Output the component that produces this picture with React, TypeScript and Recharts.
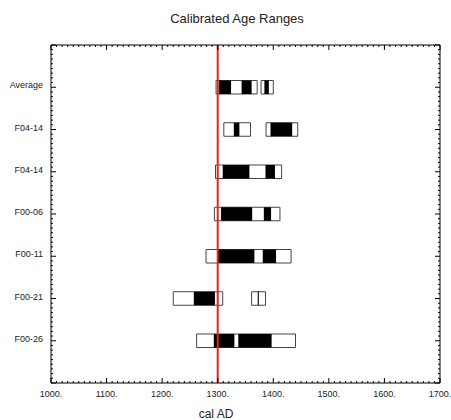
import React from 'react';
import { ComposedChart, XAxis, YAxis, ReferenceArea, ReferenceLine } from 'recharts';

const rowLabels = ['Average', 'F04-14', 'F04-14', 'F00-06', 'F00-11', 'F00-21', 'F00-26'];

// 2-sigma ranges (open boxes), cal AD, one list per row
const wideRanges: number[][][] = [
  [[1297, 1371], [1378, 1400]],
  [[1311, 1359], [1387, 1444]],
  [[1296, 1415]],
  [[1294, 1412]],
  [[1279, 1432]],
  [[1220, 1309], [1361, 1386]],
  [[1262, 1440]],
];

// 1-sigma ranges (filled), cal AD
const narrowRanges: number[][][] = [
  [[1302, 1324], [1343, 1361], [1384, 1392]],
  [[1329, 1339], [1395, 1434]],
  [[1309, 1357], [1386, 1403]],
  [[1306, 1362], [1383, 1396]],
  [[1299, 1366], [1381, 1405]],
  [[1257, 1295], [1372, 1374]],
  [[1293, 1330], [1337, 1397]],
];

const markerYear = 1300;
const xDomain = [1000, 1700];

// tick marks: every 10 years on x, nine steps per row on y
const xTicks: number[] = [];
for (let v = xDomain[0]; v <= xDomain[1]; v += 10) xTicks.push(v);
const yTicks: number[] = [];
for (let k = 0; k <= (rowLabels.length + 1) * 9; k++) yTicks.push(k / 9);

const FONT = '"Liberation Sans", Arial, Helvetica, sans-serif';
const HALF = 0.16;
const isWhole = (v: number) => Math.abs(v - Math.round(v)) < 1e-6;

const BottomTick = ({ x, y, payload }: any) => {
  const major = payload.value % 100 === 0;
  return (
    <g>
      <line x1={x} x2={x} y1={y} y2={y - (major ? 5 : 2)} stroke="#000" />
      {major && (
        <text x={x} y={y + 14} textAnchor="middle" fontSize={9} fill="#222" fontFamily={FONT}>
          {`${payload.value}.`}
        </text>
      )}
    </g>
  );
};

const TopTick = ({ x, y, payload }: any) => {
  const major = payload.value % 100 === 0;
  return <line x1={x} x2={x} y1={y} y2={y + (major ? 5 : 2)} stroke="#000" />;
};

const LeftTick = ({ x, y, payload }: any) => {
  const major = isWhole(payload.value);
  const idx = Math.round(payload.value);
  return (
    <g>
      <line x1={x} x2={x + (major ? 5 : 2)} y1={y} y2={y} stroke="#000" />
      {major && idx >= 1 && idx <= rowLabels.length && (
        <text x={x - 8} y={y + 1} textAnchor="end" fontSize={9} fill="#222" fontFamily={FONT}>
          {rowLabels[idx - 1]}
        </text>
      )}
    </g>
  );
};

const RightTick = ({ x, y, payload }: any) => {
  const major = isWhole(payload.value);
  return <line x1={x} x2={x - (major ? 5 : 2)} y1={y} y2={y} stroke="#000" />;
};

export default function App() {
  const rows = rowLabels.map((label, i) => ({ label, row: i + 1, start: wideRanges[i][0][0] }));
  const axisCommon = {
    tickLine: false,
    tickSize: 0,
    tickMargin: 0,
    interval: 0 as const,
    axisLine: { stroke: '#000' },
    allowDataOverflow: true,
    type: 'number' as const,
  };

  return (
    <div style={{ position: 'absolute', left: 0, top: 0, width: 451, height: 420, background: '#fff' }}>
      <ComposedChart
        width={451}
        height={420}
        data={rows}
        margin={{ top: 44, right: 10, bottom: 36, left: 50 }}
      >
        <XAxis xAxisId="b" dataKey="start" orientation="bottom" domain={xDomain} ticks={xTicks} height={1} tick={<BottomTick />} {...axisCommon} />
        <XAxis xAxisId="t" dataKey="start" orientation="top" domain={xDomain} ticks={xTicks} height={1} tick={<TopTick />} {...axisCommon} />
        <YAxis yAxisId="l" dataKey="row" orientation="left" domain={[0, rowLabels.length + 1]} reversed ticks={yTicks} width={1} tick={<LeftTick />} {...axisCommon} />
        <YAxis yAxisId="r" dataKey="row" orientation="right" domain={[0, rowLabels.length + 1]} reversed ticks={yTicks} width={1} tick={<RightTick />} {...axisCommon} />

        {wideRanges.flatMap((ranges, i) =>
          ranges.map(([a, b], j) => (
            <ReferenceArea
              key={`w-${i}-${j}`}
              xAxisId="b"
              yAxisId="l"
              x1={a}
              x2={b}
              y1={i + 1 - HALF}
              y2={i + 1 + HALF}
              fill="#fff"
              fillOpacity={1}
              stroke="#444"
              strokeWidth={1}
              ifOverflow="visible"
            />
          ))
        )}
        {narrowRanges.flatMap((ranges, i) =>
          ranges.map(([a, b], j) => (
            <ReferenceArea
              key={`n-${i}-${j}`}
              xAxisId="b"
              yAxisId="l"
              x1={a}
              x2={b}
              y1={i + 1 - HALF}
              y2={i + 1 + HALF}
              fill="#000"
              fillOpacity={1}
              ifOverflow="visible"
            />
          ))
        )}
        <ReferenceLine xAxisId="b" yAxisId="l" x={markerYear} stroke="#e8202a" strokeWidth={2} />
      </ComposedChart>
      <svg width={451} height={420} style={{ position: 'absolute', left: 0, top: 0, pointerEvents: 'none' }}>
        <text x={237} y={23} textAnchor="middle" fontSize={13} fill="#222" fontFamily={FONT}>
          Calibrated Age Ranges
        </text>
        <text x={216} y={418} textAnchor="middle" fontSize={12} fill="#222" fontFamily={FONT}>
          cal AD
        </text>
      </svg>
    </div>
  );
}
